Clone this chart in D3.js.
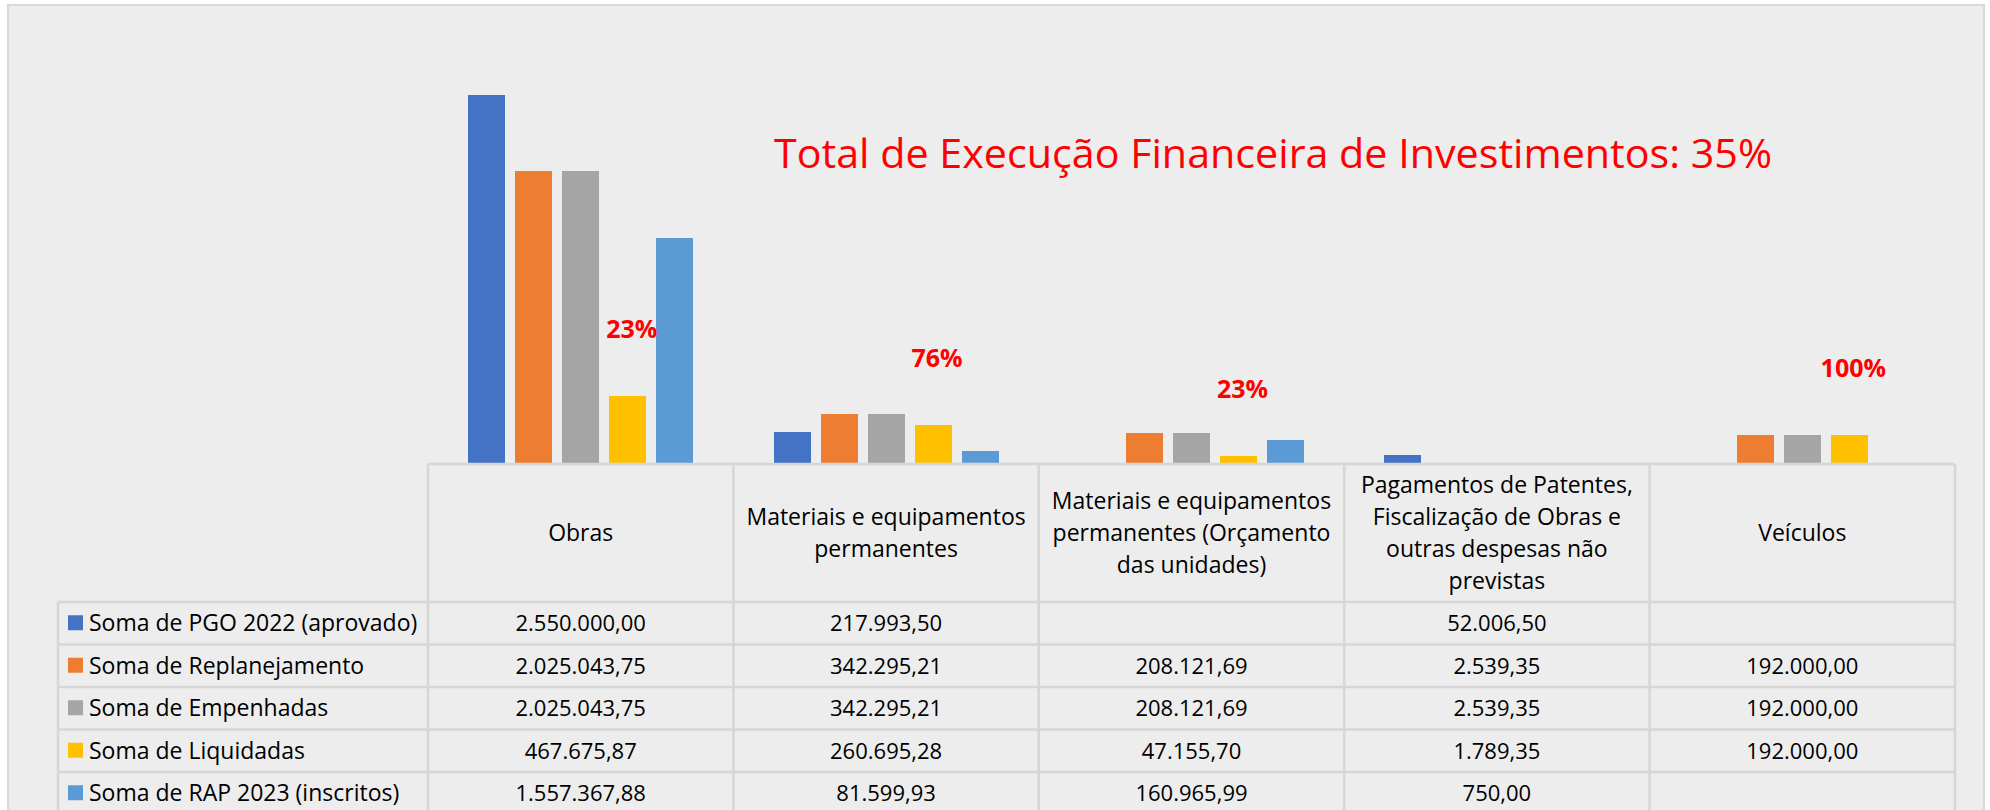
<!DOCTYPE html>
<html>
<head>
<meta charset="utf-8">
<script src="https://cdn.jsdelivr.net/npm/d3@7"></script>
<style>
  body { margin: 0; background: #fff; }
  text { font-family: "Open Sans", "Noto Sans", sans-serif; }
</style>
</head>
<body>
<div id="chart"></div>
<script>
// categorias (cabeçalho da tabela, quebrado em linhas)
var categories = ['Obras', 'Materiais e equipamentos permanentes', 'Materiais e equipamentos permanentes (Orçamento das unidades)', 'Pagamentos de Patentes, Fiscalização de Obras e outras despesas não previstas', 'Veículos'];
var headerLines = [
    ['Obras'],
    ['Materiais e equipamentos', 'permanentes'],
    ['Materiais e equipamentos', 'permanentes (Orçamento', 'das unidades)'],
    ['Pagamentos de Patentes,', 'Fiscalização de Obras e', 'outras despesas não', 'previstas'],
    ['Veículos']
];

var seriesNames = ['Soma de PGO 2022 (aprovado)', 'Soma de Replanejamento', 'Soma de Empenhadas', 'Soma de Liquidadas', 'Soma de RAP 2023 (inscritos)'];
var seriesColors = ['#4472C4', '#ED7D31', '#A5A5A5', '#FFC000', '#5B9BD5'];

var pgo = [2550000.00, 217993.50, null, 52006.50, null];
var replanejamento = [2025043.75, 342295.21, 208121.69, 2539.35, 192000.00];
var empenhadas = [2025043.75, 342295.21, 208121.69, 2539.35, 192000.00];
var liquidadas = [467675.87, 260695.28, 47155.70, 1789.35, 192000.00];
var rap = [1557367.88, 81599.93, 160965.99, 750.00, null];

var pctLabels = ['23%', '76%', '23%', null, '100%'];
var title = 'Total de Execução Financeira de Investimentos: 35%';

var series = [pgo, replanejamento, empenhadas, liquidadas, rap];

var W = 1990, H = 810;
var BASE = 463, HEAD_BOTTOM = 602, ROW_H = 42.5;
var TABLE_LEFT = 58, COL_LEFT = 428, COL_RIGHT = 1955;

var fmt = d3.formatLocale({decimal: ',', thousands: '.', grouping: [3], currency: ['', '']}).format(',.2f');

var svg = d3.select('#chart').append('svg')
    .attr('width', W)
    .attr('height', H);

svg.append('rect')
    .attr('x', 8).attr('y', 5)
    .attr('width', 1976).attr('height', H)
    .attr('fill', '#ededed')
    .attr('stroke', '#d9d9d9')
    .attr('stroke-width', 2);

var x0 = d3.scaleBand()
    .domain(categories)
    .range([COL_LEFT, COL_RIGHT]);

var x1 = d3.scaleBand()
    .domain(d3.range(seriesNames.length))
    .range([0, x0.bandwidth()])
    .paddingInner(0.213)
    .paddingOuter(0.855);

var y = d3.scaleLinear()
    .domain([0, 2550000])
    .range([BASE, 95]);

//barras
var groups = svg.append('g').attr('class', 'bars')
    .attr('shape-rendering', 'crispEdges')
    .selectAll('g')
    .data(categories)
    .enter()
    .append('g')
    .attr('transform', d => 'translate(' + x0(d) + ',0)');

groups.selectAll('rect')
    .data((d, ci) => series.map((s, si) => ({si: si, v: s[ci]})).filter(e => e.v != null))
    .enter()
    .append('rect')
    .attr('x', d => x1(d.si))
    .attr('width', x1.bandwidth())
    .attr('y', d => y(d.v))
    .attr('height', d => BASE - y(d.v))
    .attr('fill', d => seriesColors[d.si]);

//percentuais
svg.append('g').selectAll('text')
    .data(categories.map((c, i) => ({c: c, i: i})).filter(d => pctLabels[d.i]))
    .enter()
    .append('text')
    .attr('x', d => x0(d.c) + x1(3) + x1.bandwidth() / 2 + 4)
    .attr('y', d => y(liquidadas[d.i]) - 58)
    .attr('text-anchor', 'middle')
    .attr('fill', '#ff0000')
    .attr('font-weight', 'bold')
    .attr('font-size', 25)
    .text(d => pctLabels[d.i]);

svg.append('text')
    .attr('x', 774)
    .attr('y', 168)
    .attr('fill', '#ff0000')
    .attr('font-size', 41)
    .attr('textLength', 998)
    .attr('lengthAdjust', 'spacingAndGlyphs')
    .text(title);

//tabela
var grid = svg.append('g')
    .attr('stroke', '#d6d6d6')
    .attr('stroke-width', 2.5);

grid.append('line')
    .attr('x1', COL_LEFT).attr('x2', COL_RIGHT)
    .attr('y1', BASE + 1).attr('y2', BASE + 1);

d3.range(seriesNames.length + 1).forEach(function (r) {
    grid.append('line')
        .attr('x1', TABLE_LEFT).attr('x2', COL_RIGHT)
        .attr('y1', HEAD_BOTTOM + r * ROW_H).attr('y2', HEAD_BOTTOM + r * ROW_H);
});

grid.append('line')
    .attr('x1', TABLE_LEFT).attr('x2', TABLE_LEFT)
    .attr('y1', HEAD_BOTTOM).attr('y2', H);

categories.concat([null]).forEach(function (c, i) {
    var xx = c ? x0(c) : COL_RIGHT;
    grid.append('line')
        .attr('x1', xx).attr('x2', xx)
        .attr('y1', BASE + 1).attr('y2', H);
});

//cabeçalho
var headMid = (BASE + HEAD_BOTTOM) / 2;
categories.forEach(function (c, i) {
    var lines = headerLines[i];
    var t = svg.append('text')
        .attr('text-anchor', 'middle')
        .attr('font-size', 23)
        .attr('fill', '#000');
    lines.forEach(function (ln, k) {
        t.append('tspan')
            .attr('x', x0(c) + x0.bandwidth() / 2)
            .attr('y', headMid + 8 + (k - (lines.length - 1) / 2) * 32)
            .text(ln);
    });
});

//linhas da tabela
seriesNames.forEach(function (name, si) {
    var cy = HEAD_BOTTOM + si * ROW_H + ROW_H / 2;
    svg.append('rect')
        .attr('x', 68).attr('y', cy - 8)
        .attr('width', 15).attr('height', 15)
        .attr('fill', seriesColors[si]);
    svg.append('text')
        .attr('x', 89).attr('y', cy + 8)
        .attr('font-size', 23)
        .attr('fill', '#000')
        .text(name);
    categories.forEach(function (c, ci) {
        var v = series[si][ci];
        if (v == null) return;
        svg.append('text')
            .attr('x', x0(c) + x0.bandwidth() / 2)
            .attr('y', cy + 8)
            .attr('text-anchor', 'middle')
            .attr('font-size', 22)
            .attr('fill', '#000')
            .text(fmt(v));
    });
});
</script>
</body>
</html>
